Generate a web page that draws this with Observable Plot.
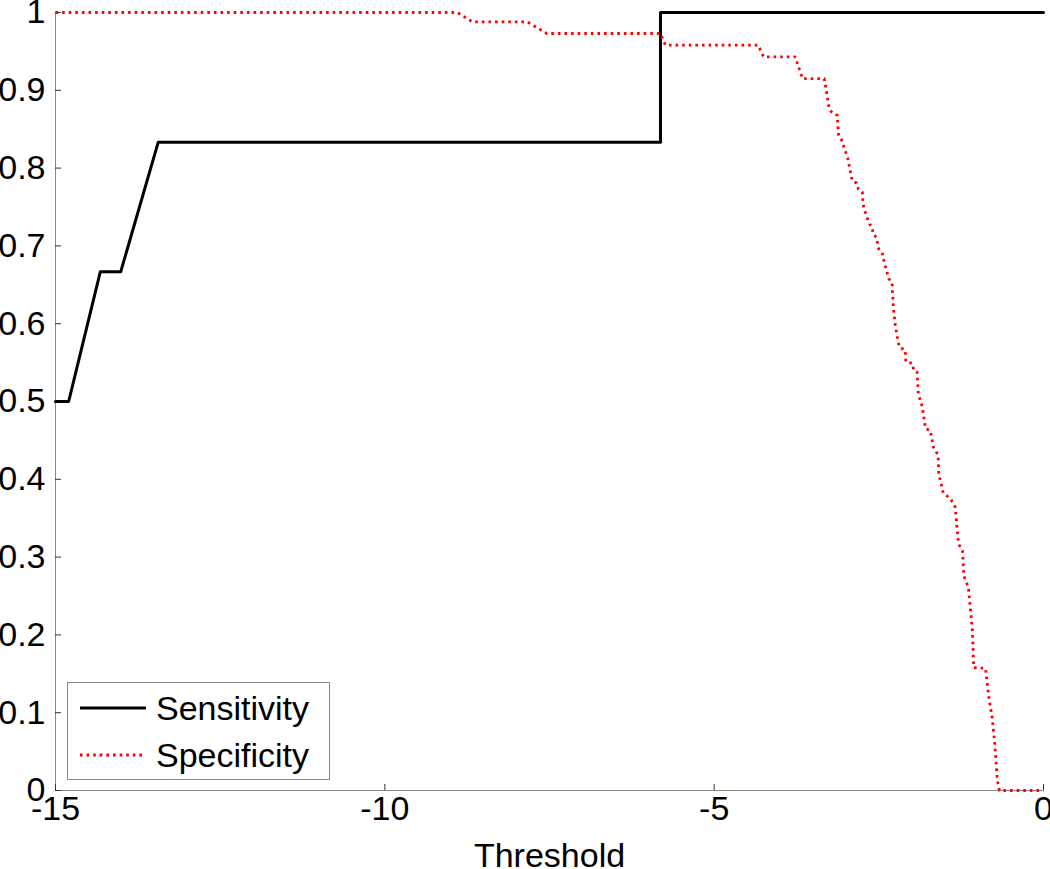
<!DOCTYPE html>
<html>
<head>
<meta charset="utf-8">
<script src="https://cdn.jsdelivr.net/npm/d3@7"></script>
<script src="https://cdn.jsdelivr.net/npm/@observablehq/plot@0.6"></script>
<style>
  body { margin: 0; background: #fff; }
  #wrap { position: relative; width: 1050px; height: 869px; font-family: "Liberation Sans", Arial, sans-serif; }
  #legend { position: absolute; left: 67px; top: 682px; width: 263px; height: 98px; border: 1px solid #888; background: #fff; box-sizing: border-box; }
  .entry { position: absolute; left: 0; height: 44px; display: flex; align-items: center; font-size: 34px; color: #000; }
  .entry svg { margin-left: 12px; margin-right: 10px; }
</style>
</head>
<body>
<div id="wrap"></div>
<script>
// Sensitivity (black solid)
const sensX = [-15, -14.80, -14.32, -14.01, -13.44, -5.815, -5.815, 0];
const sensY = [0.5, 0.5, 0.6667, 0.6667, 0.8333, 0.8333, 1, 1];

// Specificity (red dotted)
const specX = [-15, -8.90, -8.67, -7.84, -7.54, -5.815, -5.74, -4.33, -4.25, -3.77, -3.66, -3.33,
  -3.31, -3.28, -3.27, -3.24, -3.19, -3.13, -3.12, -3.11, -3.07, -3.02, -2.97, -2.94, -2.92, -2.90,
  -2.84, -2.81, -2.75, -2.74, -2.72, -2.69, -2.64, -2.60, -2.59, -2.54, -2.50, -2.45, -2.43, -2.39,
  -2.35, -2.30, -2.28, -2.25, -2.22, -2.19, -2.10, -2.09, -1.99, -1.97, -1.92, -1.90, -1.84, -1.79,
  -1.72, -1.67, -1.60, -1.59, -1.52, -1.41, -1.34, -1.29, -1.23, -1.21, -1.14, -1.08, -1.06, -0.88,
  -0.83, -0.78, -0.74, -0.70, -0.67, 0];
const specY = [1, 1, 0.988, 0.988, 0.973, 0.973, 0.958, 0.958, 0.943, 0.943, 0.915, 0.915,
  0.906, 0.891, 0.883, 0.874, 0.870, 0.868, 0.853, 0.842, 0.837, 0.825, 0.812, 0.799, 0.790, 0.783,
  0.781, 0.773, 0.769, 0.754, 0.747, 0.739, 0.728, 0.724, 0.716, 0.711, 0.696, 0.692, 0.683, 0.671,
  0.658, 0.653, 0.621, 0.598, 0.583, 0.570, 0.566, 0.551, 0.549, 0.540, 0.538, 0.510, 0.493, 0.465,
  0.463, 0.441, 0.431, 0.407, 0.382, 0.375, 0.364, 0.317, 0.308, 0.276, 0.261, 0.206, 0.158, 0.157,
  0.120, 0.094, 0.060, 0.013, 0, 0];

const xTicks = [-15, -10, -5, 0];
const yTicks = [0, 0.1, 0.2, 0.3, 0.4, 0.5, 0.6, 0.7, 0.8, 0.9, 1];
const seriesNames = ["Sensitivity", "Specificity"];

const sens = sensX.map((x, i) => ({x, y: sensY[i]}));
const spec = specX.map((x, i) => ({x, y: specY[i]}));

const fontSize = 34;

const chart = Plot.plot({
  width: 1050,
  height: 869,
  marginLeft: 55,
  marginRight: 7,
  marginTop: 12,
  marginBottom: 79,
  style: {fontFamily: '"Liberation Sans", Arial, sans-serif', fontSize: fontSize + "px", color: "#000", background: "#fff", overflow: "visible"},
  x: {domain: [-15, 0]},
  y: {domain: [0, 1]},
  marks: [
    Plot.ruleX([-15], {stroke: "#888", strokeWidth: 1}),
    Plot.ruleY([0], {stroke: "#888", strokeWidth: 1}),
    Plot.axisX({ticks: xTicks, tickSize: 0, tickPadding: 5, tickFormat: d => String(d), fontSize: fontSize,
      label: "Threshold", labelAnchor: "center", labelOffset: 76, labelArrow: "none"}),
    Plot.axisX({ticks: xTicks, tickSize: -6, text: null, label: null, anchor: "bottom", stroke: "#333"}),
    Plot.axisY({ticks: yTicks, tickSize: 0, tickPadding: 10, tickFormat: d => String(d), fontSize: fontSize, label: null}),
    Plot.axisY({ticks: yTicks, tickSize: -6, text: null, label: null, anchor: "left", stroke: "#333"}),
    Plot.line(sens, {x: "x", y: "y", stroke: "#000", strokeWidth: 3, curve: "linear"}),
    Plot.line(spec, {x: "x", y: "y", stroke: "#ff0000", strokeWidth: 2.8, strokeDasharray: "2.6,4", curve: "linear", strokeLinecap: "butt"})
  ]
});

const wrap = document.getElementById("wrap");
wrap.appendChild(chart);

const legend = document.createElement("div");
legend.id = "legend";
const styles = [
  {stroke: "#000", width: 3, dash: null},
  {stroke: "#ff0000", width: 2.8, dash: "2.6,4"}
];
seriesNames.forEach((name, i) => {
  const e = document.createElement("div");
  e.className = "entry";
  e.style.top = (i === 0 ? 3 : 50) + "px";
  const s = styles[i];
  e.innerHTML = `<svg width="66" height="10"><line x1="0" x2="66" y1="5" y2="5" stroke="${s.stroke}" stroke-width="${s.width}" ${s.dash ? `stroke-dasharray="${s.dash}"` : ""}/></svg><span>${name}</span>`;
  legend.appendChild(e);
});
wrap.appendChild(legend);
</script>
</body>
</html>
